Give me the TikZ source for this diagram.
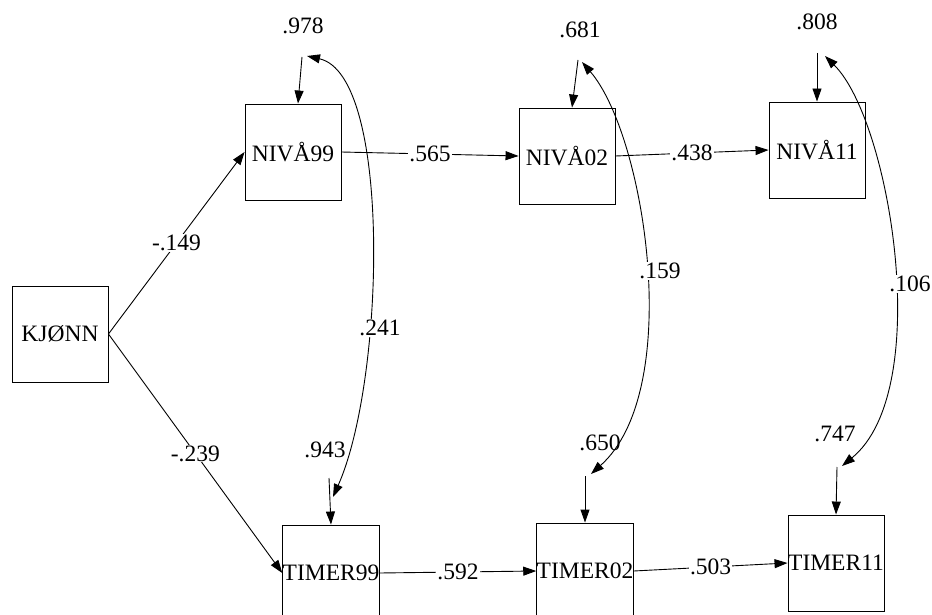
\documentclass[tikz,border=0pt]{standalone}
\usepackage{fontspec}
\setmainfont{Liberation Serif}
\usepackage{tikz}
\usetikzlibrary{arrows.meta}

\begin{document}
\begin{tikzpicture}[x=1pt, y=-1pt,
  boks/.style={draw, line width=0.9pt, minimum width=96pt, minimum height=96pt,
               inner sep=0pt, font=\fontsize{23.5}{25}\selectfont},
  tall/.style={font=\fontsize{23.5}{25}\selectfont, inner sep=1pt},
  merke/.style={tall, fill=white},
  pil/.style={-{Triangle[length=13pt,width=9pt]}, line width=0.9pt},
  kurve/.style={{Triangle[length=13pt,width=9pt]}-{Triangle[length=13pt,width=9pt]},
                line width=0.9pt}]
  \useasboundingbox (0,0) rectangle (932,615);
  \node[boks] (kjonn) at (60,334) {KJØNN};
  \node[boks] (niva99) at (293,152) {NIVÅ99};
  \node[boks] (niva02) at (567,156) {NIVÅ02};
  \node[boks] (niva11) at (817,150) {NIVÅ11};
  \node[boks] (timer99) at (331,573) {TIMER99};
  \node[boks] (timer02) at (585,571) {TIMER02};
  \node[boks] (timer11) at (836,563) {TIMER11};
  \node[tall] (r99) at (303,26) {.978};
  \node[tall] (r02) at (580,30) {.681};
  \node[tall] (r11) at (817,22) {.808};
  \node[tall] (t99) at (325,450) {.943};
  \node[tall] (t02) at (600,443) {.650};
  \node[tall] (t11) at (835,434) {.747};
  \coordinate (fr99) at (302,57);
  \coordinate (fr02) at (578,60);
  \coordinate (fr11) at (817,53);
  \coordinate (ft99) at (329,478);
  \coordinate (ft02) at (585,476);
  \coordinate (ft11) at (837,467);
  \coordinate (kr99) at (307,56);
  \coordinate (kt99) at (333,497);
  \coordinate (kr02) at (582,62);
  \coordinate (kt02) at (591,474);
  \coordinate (kr11) at (825,56);
  \coordinate (kt11) at (842,466);
  \draw[pil] (kjonn.east) -- node[merke] {-.149} (niva99.west);
  \draw[pil] (kjonn.east) -- node[merke] {-.239} (timer99.west);
  \draw[pil] (niva99.east) -- node[merke] {.565} (niva02.west);
  \draw[pil] (niva02.east) -- node[merke] {.438} (niva11.west);
  \draw[pil] (timer99.east) -- node[merke] {.592} (timer02.west);
  \draw[pil] (timer02.east) -- node[merke] {.503} (timer11.west);
  \draw[pil] (fr99) -- ([xshift=5pt]niva99.north);
  \draw[pil] (fr02) -- ([xshift=5pt]niva02.north);
  \draw[pil] (fr11) -- (niva11.north);
  \draw[pil] (ft99) -- (timer99.north);
  \draw[pil] (ft02) -- (timer02.north);
  \draw[pil] (ft11) -- (timer11.north);
  \draw[kurve] (kr99) .. controls (392,75) and (385,380) .. (kt99);
  \draw[kurve] (kr02) .. controls (645,135) and (685,390) .. (kt02);
  \draw[kurve] (kr11) .. controls (890,120) and (935,390) .. (kt11);
  \node[merke] (k99) at (380,328) {.241};
  \node[merke] (k02) at (660,271) {.159};
  \node[merke] (k11) at (910,284) {.106};
\end{tikzpicture}
\end{document}
